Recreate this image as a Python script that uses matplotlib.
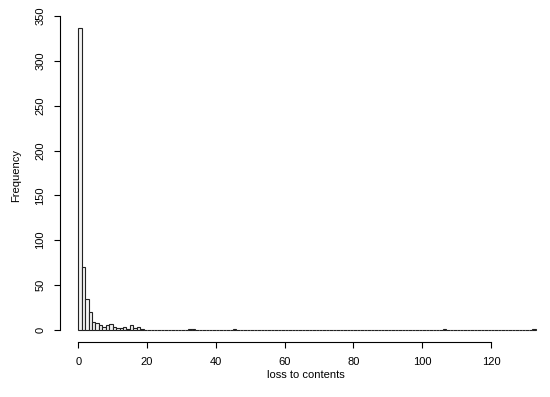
import numpy as np
import matplotlib
matplotlib.use("Agg")
import matplotlib.pyplot as plt

plt.rcParams['font.family'] = ['Liberation Sans', 'DejaVu Sans']

# histogram of loss to contents, bin width 1 from 0 to 133
bin_lo = [0, 1, 2, 3, 4, 5, 6, 7, 8, 9, 10, 11, 12, 13, 14, 15, 16, 17, 18,
          32, 33, 45, 106, 132]
bin_n = [337, 70, 34, 20, 9, 8, 5, 3, 5, 7, 3, 2, 2, 3, 1, 5, 2, 3, 1,
         1, 1, 1, 1, 1]
n_bins = 133

counts = np.zeros(n_bins)
counts[bin_lo] = bin_n
edges = np.arange(n_bins)

fig = plt.figure(figsize=(5.5, 3.97), dpi=100)
ax = fig.add_axes([60/550, 1 - 342/397, 494/550, (342 - 15.6)/397])

ax.bar(edges, counts, width=1, align='edge', color='#f2f2f2',
       edgecolor='#222222', linewidth=0.8)

ax.set_xlim(-5.32, 138.32)
ax.set_ylim(-13.48, 350.5)

for s in ['top', 'right']:
    ax.spines[s].set_visible(False)
ax.spines['left'].set_bounds(0, 350)
ax.spines['bottom'].set_bounds(0, 120)
for s in ['left', 'bottom']:
    ax.spines[s].set_linewidth(0.8)

ax.set_xticks(np.arange(0, 121, 20))
ax.set_yticks(np.arange(0, 351, 50))
ax.tick_params(length=4.5, width=0.8, labelsize=8, pad=6)
plt.setp(ax.get_yticklabels(), rotation=90, va='center')

fig.text(306/550, 1 - 375/397, 'loss to contents', ha='center', va='center', fontsize=8)
fig.text(16/550, 1 - 175/397, 'Frequency', ha='center', va='center',
         rotation=90, fontsize=8)

fig.savefig('out.png', dpi=100)
